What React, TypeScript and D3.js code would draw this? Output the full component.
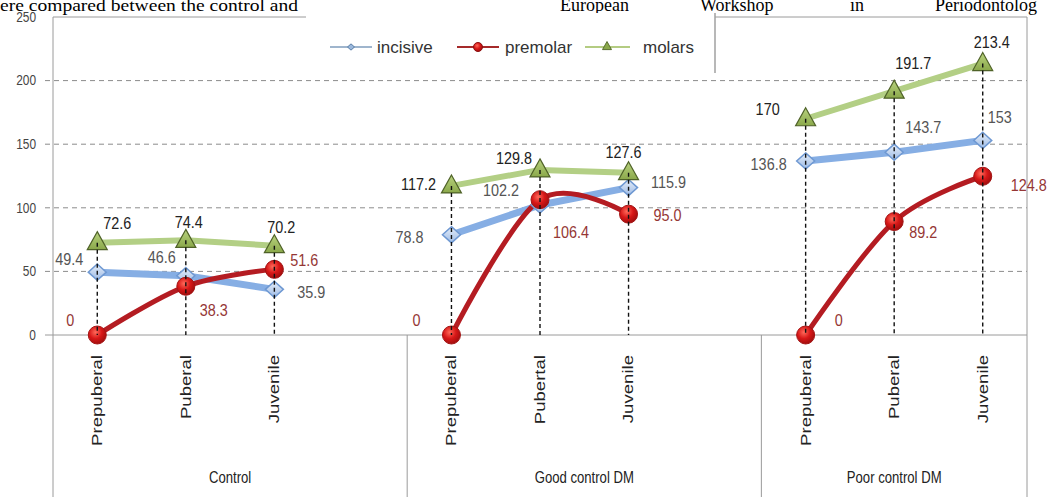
import React from "react";
import * as d3 from "d3";

// ---------- data ----------
const categories = ["Prepuberal", "Puberal", "Juvenile", "", "Prepuberal", "Pubertal", "Juvenile", "", "Prepuberal", "Puberal", "Juvenile"];
const groups = ["Control", "Good control DM", "Poor control DM"];
const groupSpans = [4, 4, 3];
const yTicks = [0, 50, 100, 150, 200, 250];

const incisiveText = ["49.4", "46.6", "35.9", null, "78.8", "102.2", "115.9", null, "136.8", "143.7", "153"];
const premolarText = ["0", "38.3", "51.6", null, "0", "106.4", "95.0", null, "0", "89.2", "124.8"];
const molarsText = ["72.6", "74.4", "70.2", null, "117.2", "129.8", "127.6", null, "170", "191.7", "213.4"];

const seriesNames = ["incisive", "premolar", "molars"];

// surrounding document text (cropped page)
const headerLeft = "ere compared between the control and";
const headerRightWords = ["European", "Workshop", "in", "Periodontolog"];

// label placement (pixel offsets from the point), style only
const incisiveOff = [[-28, -13], [-24, -19], [37, 3], null, [-42, 2], [-39, -15], [40, -5], null, [-37, 3], [29, -25], [17, -23]];
const premolarOff = [[-27, -15], [28, 24], [30, -9], null, [-35, -15], [31, 33], [39, 1], null, [33, -15], [29, 11], [46, 9]];
const molarsOff = [[20, -19], [3, -18], [7, -18], null, [-33, -2], [-26, -12], [-5, -20], null, [-38, -10], [19, -28], [9, -21]];

const toVals = (a: (string | null)[]) => a.map((s) => (s == null ? null : +s));

const W = 1048;
const H = 497;
const FONT = "'Liberation Sans', Arial, sans-serif";
const SERIF = "'Liberation Serif', 'Times New Roman', serif";

export default function App() {
  const x = d3.scaleBand<number>().domain(d3.range(categories.length)).range([53, 1027]).padding(0);
  const cx = (i: number) => (x(i) as number) + x.bandwidth() / 2;
  const y = d3.scaleLinear().domain([0, 250]).range([335, 17]);

  const inc = toVals(incisiveText);
  const pre = toVals(premolarText);
  const mol = toVals(molarsText);

  const lineGen = (curve: d3.CurveFactory) =>
    d3
      .line<number | null>()
      .defined((v) => v != null)
      .x((_, i) => cx(i))
      .y((v) => y(v as number))
      .curve(curve);

  const straight = lineGen(d3.curveLinear);
  const smooth = lineGen(d3.curveCatmullRom.alpha(0));

  const gridVals = yTicks.filter((t) => t !== 0 && t !== 250);

  // group boundaries
  const bounds: number[] = [];
  let acc = 0;
  groupSpans.forEach((s) => {
    bounds.push(acc);
    acc += s;
  });
  const groupX0 = bounds.map((b) => x(b) as number);
  const groupX1 = bounds.map((b, k) => (b + groupSpans[k] >= categories.length ? 1027 : (x(b + groupSpans[k]) as number)));

  const tText = (px: number, py: number, s: string, opts: any = {}) => (
    <text
      key={`${s}-${px}-${py}`}
      transform={`translate(${px},${py}) scale(${opts.sx ?? 0.9},1)`}
      textAnchor={opts.anchor ?? "middle"}
      dominantBaseline="central"
      fontFamily={FONT}
      fontSize={opts.size ?? 16}
      fill={opts.fill ?? "#333"}
    >
      {s}
    </text>
  );

  const diamond = (px: number, py: number, r: number, key: string, fill: string, stroke: string, sw = 1.5) => (
    <path key={key} d={`M${px},${py - r * 0.9} L${px + r},${py} L${px},${py + r * 0.9} L${px - r},${py} Z`} fill={fill} stroke={stroke} strokeWidth={sw} />
  );
  const tri = (px: number, py: number, r: number, key: string, fill: string, stroke: string, sw = 1.3) => (
    <path key={key} d={`M${px},${py - r} L${px + r},${py + r * 0.8} L${px - r},${py + r * 0.8} Z`} fill={fill} stroke={stroke} strokeWidth={sw} />
  );

  const labelColors = ["#555", "#953735", "#222"];
  const allText = [incisiveText, premolarText, molarsText];
  const allVals = [inc, pre, mol];
  const allOff = [incisiveOff, premolarOff, molarsOff];

  // justified words for right header chunk
  const wordStarts = [560, 700, 850, 935];

  return (
    <svg width={W} height={H} style={{ position: "absolute", left: 0, top: 0, background: "#fff" }}>
      <defs>
        <linearGradient id="gDia" x1="0" y1="0" x2="0" y2="1">
          <stop offset="0" stopColor="#e6eef9" />
          <stop offset="1" stopColor="#9dbbe6" />
        </linearGradient>
        <radialGradient id="gCirc" cx="0.4" cy="0.35" r="0.7">
          <stop offset="0" stopColor="#ff6a5a" />
          <stop offset="0.5" stopColor="#d81818" />
          <stop offset="1" stopColor="#9a0c0c" />
        </radialGradient>
        <linearGradient id="gTri" x1="0" y1="0" x2="0" y2="1">
          <stop offset="0" stopColor="#b9d37f" />
          <stop offset="1" stopColor="#8aa84a" />
        </linearGradient>
      </defs>

      {/* document text above */}
      <text x={0} y={11} fontFamily={SERIF} fontSize={17} fill="#000" textLength={298} lengthAdjust="spacingAndGlyphs">
        {headerLeft}
      </text>
      {headerRightWords.map((w, k) => (
        <text key={w} x={wordStarts[k]} y={11} fontFamily={SERIF} fontSize={18} fill="#000">
          {w}
        </text>
      ))}

      {/* gridlines */}
      {gridVals.map((t) => (
        <line key={t} x1={45} x2={1027} y1={y(t)} y2={y(t)} stroke="#8c8c8c" strokeWidth={1} strokeDasharray="5,4" />
      ))}
      <line x1={53} x2={1027} y1={y(250)} y2={y(250)} stroke="#9a9a9a" strokeWidth={1} />
      <line x1={45} x2={1027} y1={y(0)} y2={y(0)} stroke="#9a9a9a" strokeWidth={1} />
      <line x1={53} x2={53} y1={y(250)} y2={H} stroke="#9a9a9a" strokeWidth={1} />
      <line x1={1027} x2={1027} y1={y(250)} y2={H} stroke="#9a9a9a" strokeWidth={1} />
      {groupX0.slice(1).map((gx, k) => (
        <line key={k} x1={gx} x2={gx} y1={y(0)} y2={H} stroke="#9a9a9a" strokeWidth={1} />
      ))}

      {/* y tick labels */}
      {yTicks.map((t) => tText(36, y(t), String(t), { anchor: "end", size: 14, fill: "#444", sx: 0.85 }))}

      {/* legend */}
      <rect x={306} y={13} width={409} height={60} fill="#fff" />
      <line x1={715} x2={715} y1={13} y2={73} stroke="#a0a0a0" strokeWidth={1.5} />
      <g>
        <line x1={330} x2={372} y1={47} y2={47} stroke="#7f9cbc" strokeWidth={1.5} />
        {diamond(351, 47, 3.5, "ld", "#9bb8dc", "#5b7fa8", 1)}
        {tText(377, 47, seriesNames[0], { anchor: "start", size: 17, fill: "#333", sx: 1 })}
        <line x1={457} x2={499} y1={47} y2={47} stroke="#a52a2a" strokeWidth={2} />
        <circle cx={478} cy={47} r={4.5} fill="url(#gCirc)" stroke="#8b1010" strokeWidth={1} />
        {tText(505, 47, seriesNames[1], { anchor: "start", size: 17, fill: "#333", sx: 1 })}
        <line x1={585} x2={630} y1={47} y2={47} stroke="#9bbb59" strokeWidth={1.5} />
        {tri(607, 46, 4.5, "lt", "#8aa84a", "#5a7030", 1)}
        {tText(643, 47, seriesNames[2], { anchor: "start", size: 17, fill: "#333", sx: 1 })}
      </g>

      {/* series lines */}
      <path d={straight(inc) || ""} fill="none" stroke="#86aee4" strokeWidth={7} strokeLinejoin="round" />
      <path d={straight(mol) || ""} fill="none" stroke="#b3cf85" strokeWidth={6} strokeLinejoin="round" />
      <path d={smooth(pre) || ""} fill="none" stroke="#b41c22" strokeWidth={5} strokeLinejoin="round" />

      {/* markers */}
      {inc.map((v, i) => (v == null ? null : diamond(cx(i), y(v), 9, `d${i}`, "url(#gDia)", "#6e98d2", 1.5)))}
      {mol.map((v, i) => (v == null ? null : tri(cx(i), y(v) - 1, 10, `t${i}`, "url(#gTri)", "#4f6228", 1.2)))}
      {pre.map((v, i) => (v == null ? null : <circle key={`c${i}`} cx={cx(i)} cy={y(v)} r={9} fill="url(#gCirc)" stroke="#a31414" strokeWidth={1} />))}

      {/* drop lines */}
      {categories.map((c, i) => {
        if (!c) return null;
        const m = d3.max([inc[i], pre[i], mol[i]].filter((v) => v != null) as number[]) as number;
        return <line key={`dl${i}`} x1={cx(i)} x2={cx(i)} y1={y(m)} y2={y(0)} stroke="#111" strokeWidth={1.4} strokeDasharray="4,3" />;
      })}

      {/* data labels */}
      {allVals.map((vals, s) =>
        vals.map((v, i) => {
          const off = allOff[s][i];
          if (v == null || !off) return null;
          return tText(cx(i) + off[0], y(v) + off[1], allText[s][i] as string, { size: 16, fill: labelColors[s], sx: 0.9 });
        })
      )}

      {/* category labels */}
      {categories.map((c, i) =>
        c ? (
          <text
            key={`cat${i}`}
            transform={`translate(${cx(i)},355) rotate(-90) scale(1.24,1)`}
            textAnchor="end"
            dominantBaseline="central"
            fontFamily={FONT}
            fontSize={15}
            fill="#222"
          >
            {c}
          </text>
        ) : null
      )}

      {/* group labels */}
      {groups.map((g, k) => tText((groupX0[k] + groupX1[k]) / 2, 478, g, { size: 16, fill: "#222", sx: 0.82 }))}
    </svg>
  );
}
